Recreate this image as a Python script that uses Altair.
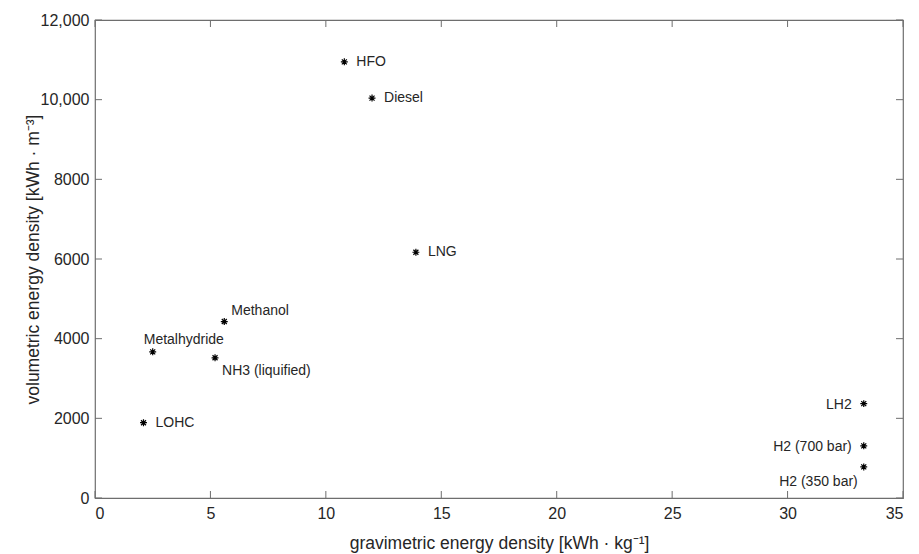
import altair as alt
import pandas as pd

# ---- data ----
names = ["HFO", "Diesel", "LNG", "Methanol", "Metalhydride", "NH3 (liquified)",
         "LOHC", "LH2", "H2 (700 bar)", "H2 (350 bar)"]
grav = [10.8, 12.0, 13.9, 5.6, 2.5, 5.2, 2.1, 33.3, 33.3, 33.3]   # kWh/kg
vol = [10950, 10040, 6170, 4430, 3670, 3520, 1890, 2370, 1310, 780]  # kWh/m3
placement = ["right", "right", "right", "upright", "up", "downright",
             "right", "left", "left", "downleft"]

x_ticks = [0, 5, 10, 15, 20, 25, 30, 35]
y_ticks = [0, 2000, 4000, 6000, 8000, 10000, 12000]

df = pd.DataFrame({"name": names, "grav": grav, "vol": vol, "place": placement})
xt = pd.DataFrame({"v": x_ticks})
yt = pd.DataFrame({"v": y_ticks})

W, H = 808, 478
TXT = "#262626"
AX = "#6e6e6e"
FONT = "Liberation Sans"

xscale = alt.Scale(domain=[0, 35], nice=False, zero=False)
yscale = alt.Scale(domain=[0, 12000], nice=False, zero=False)

x_enc = alt.X("grav:Q", scale=xscale,
              axis=alt.Axis(title="gravimetric energy density [kWh · kg⁻¹]",
                            values=x_ticks, ticks=False, tickSize=0, domain=False,
                            grid=False, labelPadding=7, labelFontSize=16,
                            labelColor=TXT, titleFontSize=17.5, titleColor=TXT,
                            titleFontWeight="normal", titleBaseline="alphabetic",
                            titleY=50, labelFont=FONT, titleFont=FONT))
y_enc = alt.Y("vol:Q", scale=yscale,
              axis=alt.Axis(title="volumetric energy density [kWh · m⁻³]",
                            values=y_ticks, ticks=False, tickSize=0, domain=False,
                            grid=False, labelPadding=6, labelFontSize=16,
                            labelColor=TXT, titleFontSize=17.5, titleColor=TXT,
                            titleFontWeight="normal", titleBaseline="alphabetic",
                            titleAngle=-90, titleX=-57, titleY=H / 2,
                            titleAlign="center",
                            labelExpr="datum.value >= 10000 ? format(datum.value, ',') : format(datum.value, 'd')",
                            labelFont=FONT, titleFont=FONT))

asterisk = "M-1,0L1,0M0,-1L0,1M-0.72,-0.72L0.72,0.72M-0.72,0.72L0.72,-0.72"

points = alt.Chart(df).mark_point(shape=asterisk, size=48, filled=False,
                                  stroke="black", strokeWidth=1.2, opacity=1).encode(
    x=x_enc, y=y_enc)

offsets = {
    "right": dict(dx=12, dy=0, align="left"),
    "upright": dict(dx=7, dy=-11, align="left"),
    "up": dict(dx=-9, dy=-12, align="left"),
    "downright": dict(dx=7, dy=13, align="left"),
    "left": dict(dx=-12, dy=1, align="right"),
    "downleft": dict(dx=-6, dy=15, align="right"),
}

label_layers = []
for p, o in offsets.items():
    label_layers.append(
        alt.Chart(df).transform_filter(alt.datum.place == p).mark_text(
            fontSize=14, font=FONT, color=TXT, baseline="middle", **o
        ).encode(x=alt.X("grav:Q", scale=xscale), y=alt.Y("vol:Q", scale=yscale),
                 text="name:N")
    )

TL = 7
tick_bottom = alt.Chart(xt).mark_rule(color=AX, strokeWidth=1).encode(
    x=alt.X("v:Q", scale=xscale), y=alt.value(H), y2=alt.value(H - TL))
tick_top = alt.Chart(xt).mark_rule(color=AX, strokeWidth=1).encode(
    x=alt.X("v:Q", scale=xscale), y=alt.value(0), y2=alt.value(TL))
tick_left = alt.Chart(yt).mark_rule(color=AX, strokeWidth=1).encode(
    y=alt.Y("v:Q", scale=yscale), x=alt.value(0), x2=alt.value(TL))
tick_right = alt.Chart(yt).mark_rule(color=AX, strokeWidth=1).encode(
    y=alt.Y("v:Q", scale=yscale), x=alt.value(W), x2=alt.value(W - TL))

chart = alt.layer(tick_bottom, tick_top, tick_left, tick_right, points,
                  *label_layers).properties(
    width=W, height=H,
    autosize=alt.AutoSizeParams(type="none"),
    padding={"left": 95, "top": 20, "right": 16, "bottom": 56},
    background="white",
).configure_view(stroke=AX, strokeWidth=1.2)

chart.save("out.html", embed_options={"renderer": "svg", "actions": False})
